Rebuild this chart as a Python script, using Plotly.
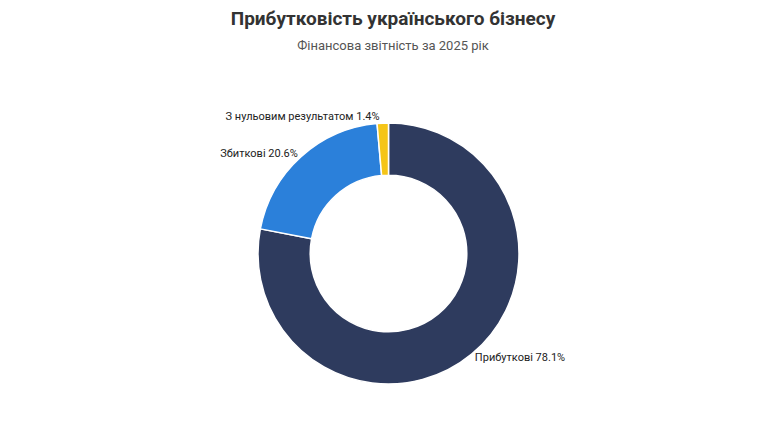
import plotly.graph_objects as go

labels = ["Прибуткові", "Збиткові", "З нульовим результатом"]
values = [78.1, 20.6, 1.4]
colors = ["#2e3b5e", "#2b80da", "#f5c518"]

fig = go.Figure(go.Pie(
    labels=labels, values=values, hole=0.6, sort=False, direction="clockwise",
    rotation=0, marker=dict(colors=colors, line=dict(color="white", width=1.5)),
    texttemplate="%{label} %{value}%", textposition="outside",
    textfont=dict(family="Roboto", size=11, color="#222"),
    showlegend=False, hoverinfo="label+value"
))
fig.update_layout(
    width=770, height=431, paper_bgcolor="white",
    margin=dict(l=0, r=0, t=115, b=55),
    font=dict(family="Roboto"),
    title=dict(text="<b>Прибутковість українського бізнесу</b><br><span style='font-size:13px;color:#555'>Фінансова звітність за 2025 рік</span>",
               x=0.5, y=0.96, xanchor="center", yanchor="top",
               font=dict(size=19, color="#333", family="Roboto")),
)
fig.write_html("out.html")
